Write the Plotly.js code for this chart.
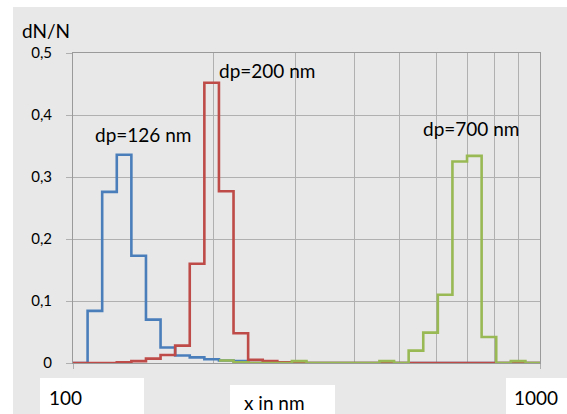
<!DOCTYPE html>
<html>
<head>
<meta charset="utf-8">
<script src="https://cdn.plot.ly/plotly-3.0.1.min.js"></script>
<style>html,body{margin:0;padding:0;background:#fff;}#chart{width:567px;height:414px;}</style>
</head>
<body>
<div id="chart"></div>
<script>
// Bin edges (nm), log-spaced histogram classes
const binEdges = [100, 107.46, 115.48, 124.09, 133.35, 143.30, 153.99, 165.48, 177.83, 191.10,
  205.35, 220.67, 237.14, 254.83, 273.84, 294.27, 316.23, 339.82, 365.17, 392.42,
  421.70, 453.16, 486.97, 523.30, 562.34, 604.30, 649.38, 697.83, 749.89, 805.84,
  865.96, 930.57, 1000];

// dN/N per bin (32 bins)
const dp126 = [0, 0.084, 0.276, 0.336, 0.173, 0.070, 0.025, 0.012, 0.009, 0.006,
  0.004, 0.003, 0, 0, 0, 0, 0, 0, 0, 0, 0, 0, 0, 0, 0, 0, 0, 0, 0, 0, 0, 0];
const dp200 = [0, 0, 0, 0.001, 0.003, 0.007, 0.013, 0.028, 0.160, 0.452,
  0.277, 0.048, 0.005, 0.003, 0.001, 0, 0, 0, 0, 0, 0, 0, 0, 0, 0, 0, 0, 0, 0, 0, 0, 0];
// dp=700 series starts at bin 10 (205 nm)
const dp700Start = 10;
const dp700 = [0.004, 0.001, 0, 0, 0, 0.003, 0, 0, 0, 0,
  0, 0.003, 0, 0.020, 0.049, 0.110, 0.325, 0.334, 0.042, 0, 0.003, 0];

const seriesNames = ['dp=126 nm', 'dp=200 nm', 'dp=700 nm'];
const yTickVals = [0, 0.1, 0.2, 0.3, 0.4, 0.5];
const xMajorTicks = [100, 1000];
const xMinorTicks = [200, 300, 400, 500, 600, 700, 800, 900];
const xTickLabels = ['100', '1000'];
const xTitle = 'x in nm';
const yTitle = 'dN/N';

function stepTrace(edges, vals, color, name) {
  const x = edges.slice(0, vals.length + 1);
  const y = vals.concat([vals[vals.length - 1]]);
  return {x: x, y: y, type: 'scatter', mode: 'lines', name: name,
    line: {shape: 'hv', color: color, width: 2.6}, hoverinfo: 'skip'};
}

const traces = [
  stepTrace(binEdges, dp126, '#4a7ebb', seriesNames[0]),
  stepTrace(binEdges, dp200, '#be4b48', seriesNames[1]),
  stepTrace(binEdges.slice(dp700Start), dp700, '#98b954', seriesNames[2])
];

// pixel -> paper helpers (plot area 73..540 x 53..363)
const L = 73, R = 540, T = 53, B = 363;
function px(x) { return (x - L) / (R - L); }
function py(y) { return (B - y) / (B - T); }

const font = 'Lato, "Open Sans", sans-serif';
const grid = '#b0b0b0';

function box(x0, y0, x1, y1) {
  return {type: 'rect', xref: 'paper', yref: 'paper', x0: px(x0), x1: px(x1), y0: py(y1), y1: py(y0),
    fillcolor: '#ffffff', line: {width: 0}, layer: 'above'};
}
function label(text, x, y, size) {
  return {text: text, xref: 'paper', yref: 'paper', x: px(x), y: py(y), xanchor: 'center', yanchor: 'middle',
    showarrow: false, font: {family: font, size: size, color: '#000'}};
}

const layout = {
  width: 567, height: 414,
  margin: {l: L, r: 567 - R, t: T, b: 414 - B, pad: 0},
  paper_bgcolor: '#ffffff',
  plot_bgcolor: '#e8e8e8',
  showlegend: false,
  separators: ',.',
  xaxis: {
    type: 'log', range: [2, 3],
    tickmode: 'array', tickvals: xMajorTicks, ticktext: ['', ''],
    ticks: 'outside', ticklen: 5, tickcolor: grid, tickwidth: 1,
    showgrid: true, gridcolor: grid, gridwidth: 1,
    minor: {tickmode: 'array', tickvals: xMinorTicks, showgrid: true, gridcolor: grid, gridwidth: 1, ticks: ''},
    showline: true, linecolor: '#9a9a9a', linewidth: 1, mirror: true,
    zeroline: false, fixedrange: true
  },
  yaxis: {
    range: [0, 0.5], tickmode: 'array', tickvals: yTickVals,
    ticks: 'outside', ticklen: 6, tickcolor: grid, tickwidth: 1,
    ticklabelstandoff: 11,
    tickfont: {family: font, size: 15, color: '#000'},
    showgrid: true, gridcolor: grid, gridwidth: 1,
    showline: true, linecolor: '#9a9a9a', linewidth: 1, mirror: true,
    zeroline: false, fixedrange: true
  },
  shapes: [
    {type: 'rect', xref: 'paper', yref: 'paper', x0: px(13), x1: px(580), y0: py(430), y1: py(7),
      fillcolor: '#e8e8e8', line: {width: 0}, layer: 'below'},
    box(40, 378, 144, 420),
    box(506, 378, 580, 420),
    box(230, 385, 335, 420)
  ],
  annotations: [
    label(yTitle, 46, 31, 19),
    label(seriesNames[0], 143, 134, 19),
    label(seriesNames[1], 267, 70, 19),
    label(seriesNames[2], 471, 128, 19),
    label(xTickLabels[0], 65, 397, 19),
    label(xTickLabels[1], 536, 397, 19),
    label(xTitle, 274, 402, 19)
  ]
};

Plotly.newPlot('chart', traces, layout, {staticPlot: true, displayModeBar: false});
</script>
</body>
</html>
